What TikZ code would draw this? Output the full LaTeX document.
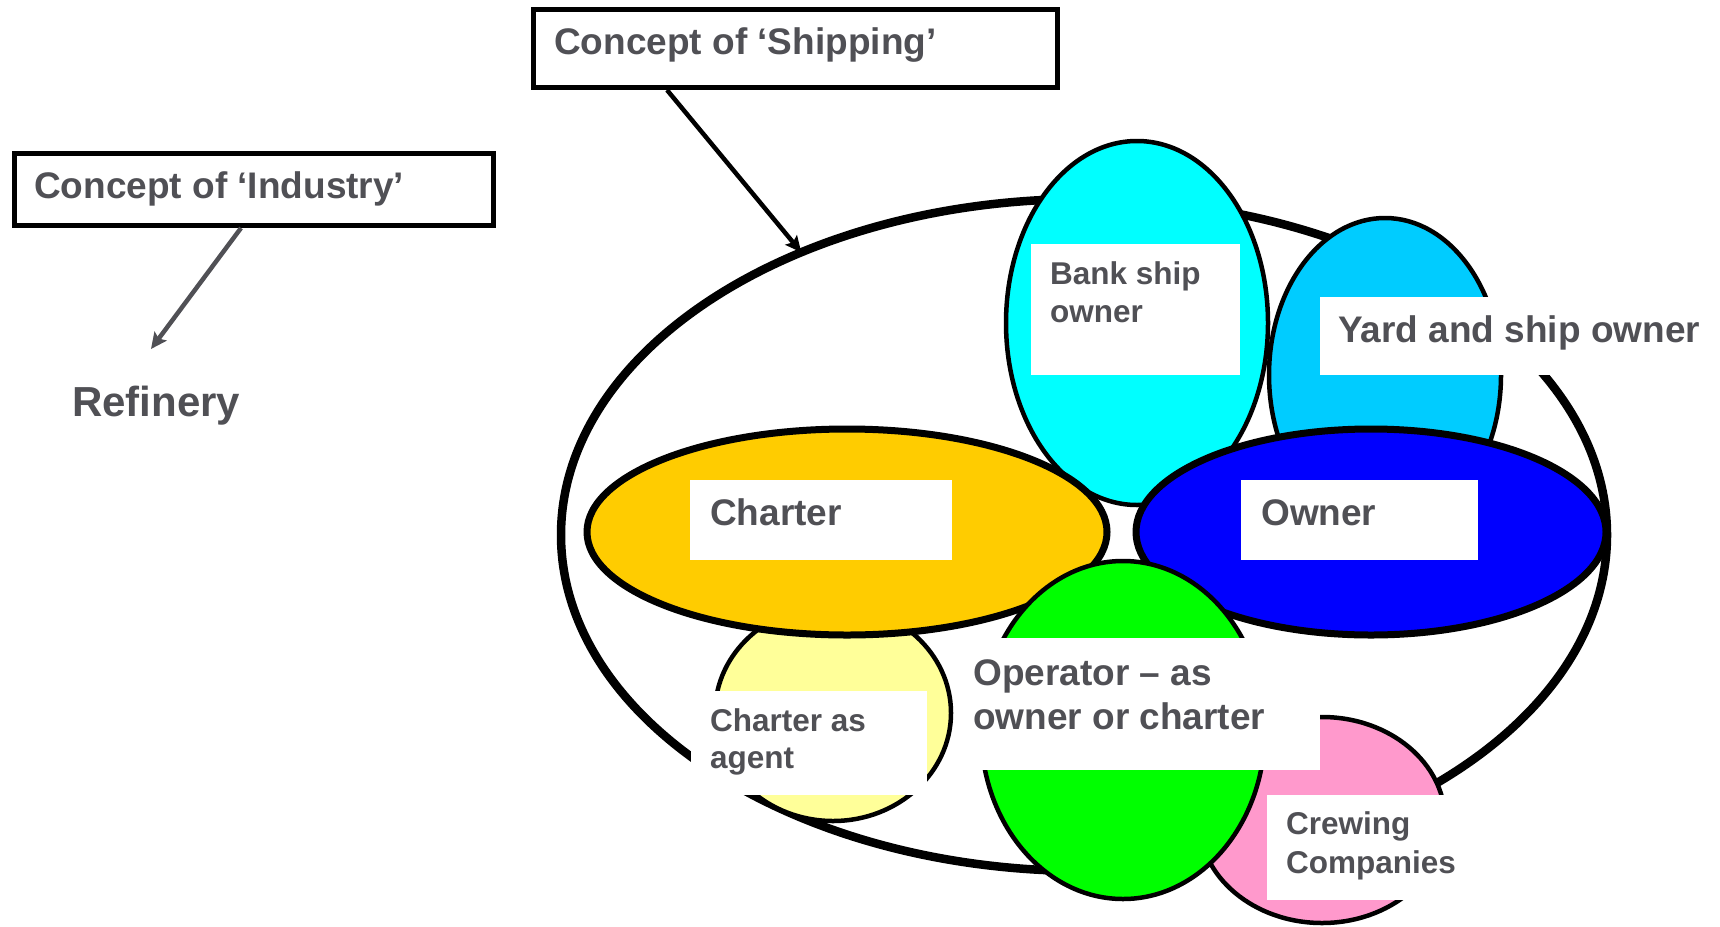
\documentclass[tikz,border=0pt]{standalone}
\usepackage{fontspec}
\setmainfont{Liberation Sans}
\usetikzlibrary{arrows.meta,shapes.geometric}
\definecolor{txtgray}{RGB}{80,80,85}
\definecolor{bankcol}{RGB}{0,255,255}
\definecolor{yardcol}{RGB}{0,204,255}
\definecolor{chartercol}{RGB}{255,204,0}
\definecolor{ownercol}{RGB}{0,0,255}
\definecolor{opercol}{RGB}{0,255,0}
\definecolor{agentcol}{RGB}{255,255,153}
\definecolor{crewcol}{RGB}{255,153,204}
\newcommand{\lines}[1]{\begin{tabular}[t]{@{}l@{}}#1\end{tabular}}
\begin{document}
\begin{tikzpicture}[x=1pt,y=-1pt,
  blob/.style={ellipse,draw=black,line width=4.5pt,inner sep=0pt,outer sep=0pt},
  heavyblob/.style={blob,line width=7pt},
  panel/.style={fill=white,draw=none,inner sep=0pt,outer sep=0pt,anchor=north west},
  titlebox/.style={rectangle,draw=black,line width=5pt,fill=white,inner sep=0pt,outer sep=0pt},
  lbig/.style={font=\fontsize{37}{44}\selectfont\bfseries,text=txtgray,inner sep=0pt,anchor=base west},
  lsmall/.style={font=\fontsize{31.5}{38}\selectfont\bfseries,text=txtgray,inner sep=0pt,anchor=base west},
  pointer/.style={line width=4.5pt,-{Stealth[length=16pt,width=15pt,inset=3pt]}}]
\useasboundingbox (0,0) rectangle (1720,926);

% shipping domain
\node[blob,line width=8.5pt,minimum width=1046pt,minimum height=672pt] (outer) at (1084,535) {};

% participant groups
\node[blob,fill=bankcol,minimum width=262pt,minimum height=364pt] (bank) at (1137,323) {};
\node[blob,fill=yardcol,minimum width=232pt,minimum height=314pt] (yard) at (1385,375) {};
\node[blob,fill=agentcol,minimum width=236pt,minimum height=216pt] (agent) at (833,713) {};
\node[blob,fill=crewcol,minimum width=246pt,minimum height=206pt] (crew) at (1322,820) {};
\node[heavyblob,fill=chartercol,minimum width=520pt,minimum height=206pt] (charter) at (847,532) {};
\node[heavyblob,fill=ownercol,minimum width=470pt,minimum height=206pt] (owner) at (1371,532) {};
\node[blob,fill=opercol,minimum width=284pt,minimum height=338pt] (oper) at (1123,730) {};

% label panels
\node[panel,minimum width=209pt,minimum height=131pt] (bankpanel) at (1031,244) {};
\node[panel,minimum width=400pt,minimum height=78pt] (yardpanel) at (1320,297) {};
\node[panel,minimum width=262pt,minimum height=80pt] (charterpanel) at (690,480) {};
\node[panel,minimum width=237pt,minimum height=80pt] (ownerpanel) at (1241,480) {};
\node[panel,minimum width=360pt,minimum height=132pt] (operpanel) at (960,638) {};
\node[panel,minimum width=236pt,minimum height=104pt] (agentpanel) at (691,691) {};
\node[panel,minimum width=181pt,minimum height=105pt] (crewpanel) at (1267,795) {};

% labels
\node[lsmall] (banktext) at (1050,284) {\lines{Bank ship\\owner}};
\node[lbig] (yardtext) at (1338,342) {Yard and ship owner};
\node[lbig] (chartertext) at (710,525) {Charter};
\node[lbig] (ownertext) at (1261,525) {Owner};
\node[lbig,font=\fontsize{37}{44}\selectfont\bfseries] (opertext) at (973,685) {\lines{Operator – as\\owner or charter}};
\node[lsmall,font=\fontsize{31.5}{37}\selectfont\bfseries] (agenttext) at (710,731) {\lines{Charter as\\agent}};
\node[lsmall,font=\fontsize{31.5}{39}\selectfont\bfseries] (crewtext) at (1286,834) {\lines{Crewing\\Companies}};

% concept boxes
\node[titlebox,minimum width=524pt,minimum height=78pt] (shipbox) at (795.5,48.5) {};
\node[lbig] (shiptext) at (554,54) {Concept of ‘Shipping’};
\node[titlebox,minimum width=479pt,minimum height=72pt] (indbox) at (254,189.5) {};
\node[lbig] (indtext) at (34,198) {Concept of ‘Industry’};
\node[lbig,font=\fontsize{42}{50}\selectfont\bfseries] (refinery) at (72,416) {Refinery};

% pointers
\coordinate (shipfoot) at (667,90);
\draw[pointer,black] (shipfoot) -- (outer.135);
\coordinate (indfoot) at (241,228);
\coordinate (indtip) at (151,349);
\draw[pointer,txtgray] (indfoot) -- (indtip);
\end{tikzpicture}
\end{document}
